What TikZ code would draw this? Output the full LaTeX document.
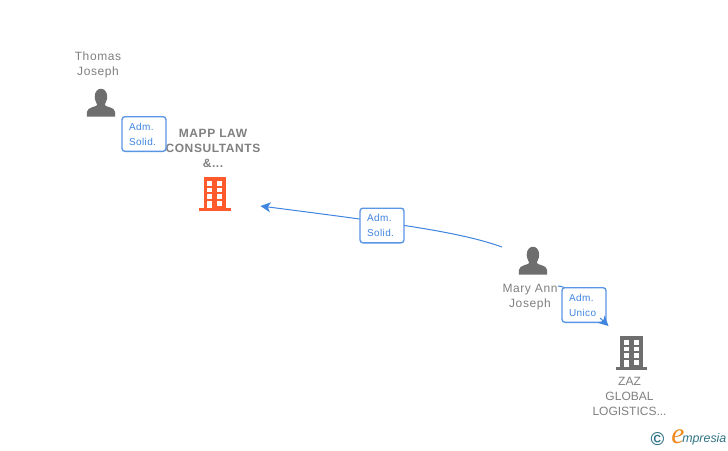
\documentclass[tikz,border=0pt]{standalone}
\usepackage{fontspec}
\setmainfont{Liberation Sans}
\newfontfamily\logofont{Liberation Serif}
\usetikzlibrary{arrows.meta}
\definecolor{iconG}{HTML}{6E6E6E}
\definecolor{txtG}{HTML}{808080}
\definecolor{linkB}{HTML}{3F85E0}
\definecolor{boxB}{HTML}{5A95E6}
\definecolor{orangeB}{HTML}{FF5A2B}
\definecolor{logoO}{HTML}{F08A1D}
\definecolor{teal}{HTML}{2F7488}
\tikzset{
  lbl/.style={text=txtG,font=\fontsize{9}{11.25}\selectfont,align=center,inner sep=0pt},
  wlbl/.style={lbl,font=\fontsize{9}{11.25}\selectfont\addfontfeature{LetterSpace=5}},
  blbl/.style={lbl,font=\fontsize{9}{11.25}\selectfont\bfseries\addfontfeature{LetterSpace=5}},
  role/.style={draw=boxB,line width=1pt,rounded corners=2.2pt,fill=white,text width=22.5pt,inner xsep=5.25pt,inner ysep=0pt,minimum height=26pt,
    text=linkB,font=\fontsize{7.5}{11.25}\selectfont\addfontfeature{LetterSpace=4},align=left},
  link/.style={draw=linkB,line width=0.75pt},
  tip/.style={-{Stealth[length=7.5pt,width=7.5pt,inset=2pt]}}
}
\newcommand{\personicon}[2]{%
  \fill[iconG] (#1-6,#2-2) .. controls (#1-6,#2-13) and (#1+6.5,#2-13) .. (#1+6.5,#2-2)
     .. controls (#1+6.5,#2+2) and (#1+4,#2+4) .. (#1+4,#2+6)
     .. controls (#1+5,#2+8) and (#1+14,#2+8) .. (#1+14.4,#2+13)
     -- (#1+14.4,#2+17.5) -- (#1-13.8,#2+17.5) -- (#1-13.8,#2+13)
     .. controls (#1-13.4,#2+8) and (#1-4.5,#2+8) .. (#1-3.5,#2+6)
     .. controls (#1-3.5,#2+4) and (#1-6,#2+2) .. (#1-6,#2-2) -- cycle;}
\newcommand{\buildingicon}[3]{%
  \fill[#3] (#1-15.7,#2+31) rectangle (#1+15.7,#2+34);
  \fill[#3] (#1-11.2,#2) rectangle (#1+11.2,#2+32);
  \foreach \yy in {4,10.6,17.3}{
    \fill[white] (#1-7.6,#2+\yy) rectangle (#1-2.6,#2+\yy+4.8);
    \fill[white] (#1+2.4,#2+\yy) rectangle (#1+7.4,#2+\yy+4.8);}
  \fill[white] (#1-7.6,#2+24) rectangle (#1-2.6,#2+31);
  \fill[white] (#1+2.4,#2+24) rectangle (#1+7.4,#2+28.8);}
\begin{document}
\begin{tikzpicture}[x=0.75pt,y=-0.75pt]
\useasboundingbox (0,0) rectangle (728,450);
\fill[white] (0,0) rectangle (728,450);
% icons
\personicon{100.7}{99}
\personicon{532.7}{257}
\buildingicon{215}{177}{orangeB}
\buildingicon{631.5}{336}{iconG}
% labels
\node[wlbl] (thomas) at (98,64.7) {Thomas\\Joseph};
\node[blbl] (mapp) at (213,148) {MAPP LAW\\CONSULTANTS\\\&...};
\node[wlbl] (mary) at (530,297.3) {Mary Ann\\Joseph};
\node[lbl] (zaz) at (629.5,396) {ZAZ\\GLOBAL\\LOGISTICS...};
% connector end points
\coordinate (maryA) at (502,247);
\coordinate (mappIn) at (260.5,206);
\coordinate (maryB) at (558,286);
\coordinate (zazPre) at (600,318);
\coordinate (zazIn) at (608.5,326);
% role boxes and connectors
\node[role] (r0) at (144,134) {Adm.\\Solid.};
\draw[link,tip] (maryA) .. controls (460,232) and (400,224) .. (mappIn);
\node[role] (r1) at (382,225.5) {Adm.\\Solid.};
\draw[link] (maryB) .. controls (575,288) and (590,305) .. (zazPre);
\node[role] (r2) at (584,305) {Adm.\\Unico};
\draw[link,tip] (zazPre) -- (zazIn);
% logo
\node[inner sep=0pt,text=teal,font=\fontsize{14}{14}\selectfont\bfseries] (copy) at (657.5,439) {©};
\node[inner sep=0pt,text=logoO,font=\logofont\fontsize{22}{22}\selectfont\itshape] (elogo) at (678,436.5) {e};
\node[inner sep=0pt,text=teal,anchor=west,font=\fontsize{9.3}{11}\selectfont\itshape] (mpresia) at (682,439) {mpresia};
\end{tikzpicture}
\end{document}
